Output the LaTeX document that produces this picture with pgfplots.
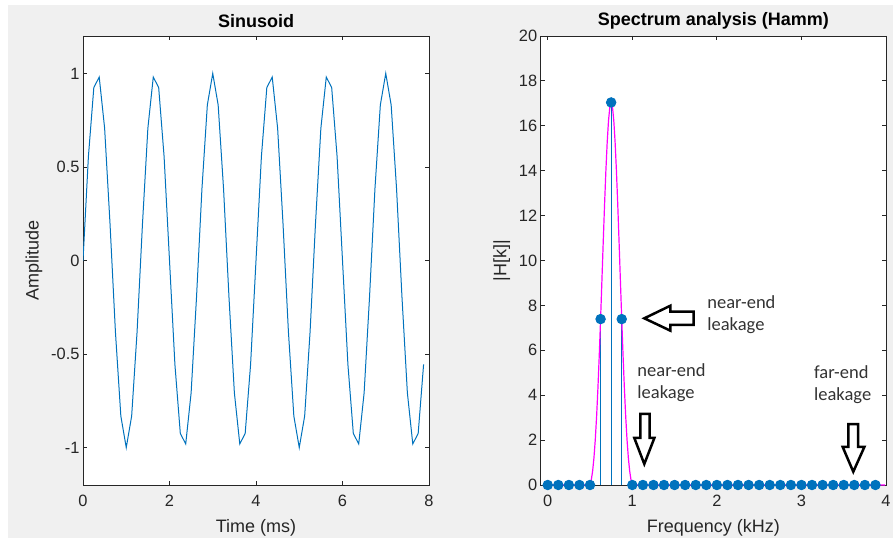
\documentclass[border=0pt]{standalone}
\usepackage{pgfplots}
\pgfplotsset{compat=1.18}
\usepackage{fontspec}
\setmainfont{Liberation Sans}
\newfontfamily\carlito{Carlito}
\definecolor{mblue}{rgb}{0,0.447,0.741}
\definecolor{mgray}{rgb}{0.15,0.15,0.15}
\definecolor{figbg}{rgb}{0.94,0.94,0.94}
\definecolor{mmag}{rgb}{1,0,1}
\begin{document}
\begin{tikzpicture}
\useasboundingbox (0pt,0pt) rectangle (893pt,538pt);
\fill[white] (0pt,0pt) rectangle (893pt,538pt);
\fill[figbg] (8pt,0pt) rectangle (893pt,533pt);
\pgfplotsset{mstyle/.style={scale only axis, height=449pt,
  /pgf/number format/assume math mode=true,
  axis background/.style={fill=white},
  tick align=inside, major tick length=4pt,
  axis line style={mgray,line width=0.8pt},
  every tick/.style={mgray,line width=0.8pt},
  tick label style={font=\fontsize{16.4}{18}\selectfont, text=mgray},
  xticklabel style={yshift=-7pt},
  label style={font=\fontsize{18}{20}\selectfont, text=mgray},
  title style={font=\bfseries\fontsize{18}{20}\selectfont, anchor=center}}}

\begin{axis}[mstyle, at={(83pt,53pt)}, anchor=south west, width=346pt,
  xmin=0, xmax=8, ymin=-1.2, ymax=1.2,
  xtick={0,2,4,6,8}, xticklabels={0,2,4,6,8},
  ytick={-1,-0.5,0,0.5,1}, yticklabels={-1,-0.5,0,0.5,1},
  title={Sinusoid}, title style={at={(axis description cs:0.5,1.0207)}},
  xlabel={Time (ms)}, xlabel style={at={(axis description cs:0.5,-0.0945)}, anchor=center},
  ylabel={Amplitude}, ylabel style={at={(axis description cs:-0.1416,0.5)}, anchor=center}]
\addplot[mblue, line width=1pt] table {
t y
0 0
0.125 0.5556
0.25 0.9239
0.375 0.9808
0.5 0.7071
0.625 0.1951
0.75 -0.3827
0.875 -0.8315
1.0 -1
1.125 -0.8315
1.25 -0.3827
1.375 0.1951
1.5 0.7071
1.625 0.9808
1.75 0.9239
1.875 0.5556
2.0 0
2.125 -0.5556
2.25 -0.9239
2.375 -0.9808
2.5 -0.7071
2.625 -0.1951
2.75 0.3827
2.875 0.8315
3.0 1
3.125 0.8315
3.25 0.3827
3.375 -0.1951
3.5 -0.7071
3.625 -0.9808
3.75 -0.9239
3.875 -0.5556
4.0 0
4.125 0.5556
4.25 0.9239
4.375 0.9808
4.5 0.7071
4.625 0.1951
4.75 -0.3827
4.875 -0.8315
5.0 -1
5.125 -0.8315
5.25 -0.3827
5.375 0.1951
5.5 0.7071
5.625 0.9808
5.75 0.9239
5.875 0.5556
6.0 0
6.125 -0.5556
6.25 -0.9239
6.375 -0.9808
6.5 -0.7071
6.625 -0.1951
6.75 0.3827
6.875 0.8315
7.0 1
7.125 0.8315
7.25 0.3827
7.375 -0.1951
7.5 -0.7071
7.625 -0.9808
7.75 -0.9239
7.875 -0.5556
};
\end{axis}

\begin{axis}[mstyle, at={(540.7pt,53pt)}, anchor=south west, width=345.3pt,
  xmin=-0.083, xmax=4, ymin=0, ymax=20,
  xtick={0,1,2,3,4}, xticklabels={0,1,2,3,4},
  ytick={0,2,...,20}, yticklabels={0,2,4,6,8,10,12,14,16,18,20},
  title={Spectrum analysis (Hamm)}, title style={at={(axis description cs:0.5,1.0207)}},
  xlabel={Frequency (kHz)}, xlabel style={at={(axis description cs:0.5,-0.0945)}, anchor=center},
  ylabel={|H[k]|}, ylabel style={at={(axis description cs:-0.1129,0.5)}, anchor=center}]
\addplot[mblue, line width=1pt, ycomb, mark=*, mark size=4.7pt, mark options={fill=mblue, draw=mblue}] table {
f h
0 0
0.125 0
0.25 0
0.375 0
0.5 0
0.625 7.39
0.75 17.04
0.875 7.39
1.0 0
1.125 0
1.25 0
1.375 0
1.5 0
1.625 0
1.75 0
1.875 0
2.0 0
2.125 0
2.25 0
2.375 0
2.5 0
2.625 0
2.75 0
2.875 0
3.0 0
3.125 0
3.25 0
3.375 0
3.5 0
3.625 0
3.75 0
3.875 0
};
\addplot[mmag, line width=1.2pt] table {
f h
0 0
0.5 0
0.515625 0.235
0.53125 0.631
0.546875 1.221
0.5625 2.030
0.578125 3.066
0.59375 4.324
0.609375 5.780
0.625 7.39
0.640625 9.093
0.65625 10.817
0.671875 12.476
0.6875 13.984
0.703125 15.260
0.71875 16.229
0.734375 16.834
0.75 17.04
0.765625 16.834
0.78125 16.229
0.796875 15.260
0.8125 13.984
0.828125 12.476
0.84375 10.817
0.859375 9.093
0.875 7.39
0.890625 5.780
0.90625 4.324
0.921875 3.066
0.9375 2.030
0.953125 1.221
0.96875 0.631
0.984375 0.235
1.0 0
3.99 0
};
\node[anchor=west, align=left, inner sep=0pt, font=\carlito\fontsize{18.5}{22}\selectfont, text=black!80] at (axis cs:1.886,7.57) {near-end\\leakage};
\node[anchor=west, align=left, inner sep=0pt, font=\carlito\fontsize{18.5}{22}\selectfont, text=black!80] at (axis cs:1.059,4.566) {near-end\\leakage};
\node[anchor=west, align=left, inner sep=0pt, font=\carlito\fontsize{18.5}{22}\selectfont, text=black!80] at (axis cs:3.148,4.454) {far-end\\leakage};
\draw[line width=2.5pt, fill=white, line join=miter] (axis cs:1.142,7.425) -- (axis cs:1.451,7.987) -- (axis cs:1.451,7.72) -- (axis cs:1.724,7.72) -- (axis cs:1.724,7.127) -- (axis cs:1.451,7.127) -- (axis cs:1.451,6.873) -- cycle;
\draw[line width=2.5pt, fill=white, line join=miter] (axis cs:1.095,3.163) -- (axis cs:1.205,3.163) -- (axis cs:1.205,2.094) -- (axis cs:1.261,2.094) -- (axis cs:1.142,0.935) -- (axis cs:1.024,2.094) -- (axis cs:1.095,2.094) -- cycle;
\draw[line width=2.5pt, fill=white, line join=miter] (axis cs:3.556,2.717) -- (axis cs:3.669,2.717) -- (axis cs:3.669,1.693) -- (axis cs:3.744,1.693) -- (axis cs:3.613,0.592) -- (axis cs:3.488,1.693) -- (axis cs:3.556,1.693) -- cycle;
\end{axis}
\end{tikzpicture}
\end{document}
